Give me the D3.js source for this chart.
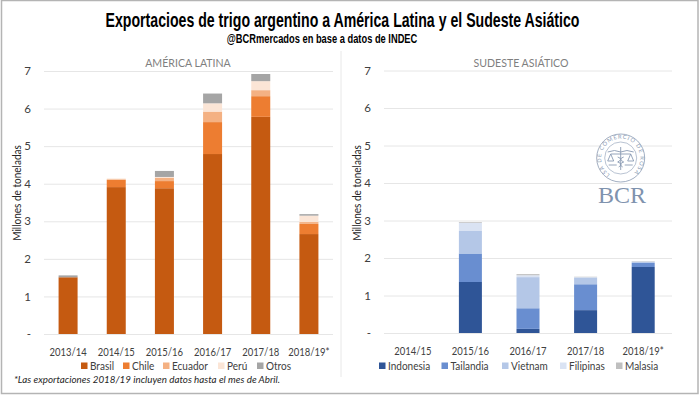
<!DOCTYPE html>
<html>
<head>
<meta charset="utf-8">
<script src="https://cdn.jsdelivr.net/npm/d3@7"></script>
<style>
  html, body { margin: 0; padding: 0; background: #fff; }
  svg { display: block; }
  text { font-family: Lato, "Open Sans", sans-serif; fill: #404040; }
  .head { font-family: "Liberation Sans", sans-serif; font-weight: bold; fill: #000; text-anchor: middle; }
  .axis path { display: none; }
  .grid path { display: none; }
  .grid line { stroke: #e6e6e6; }
</style>
</head>
<body>
<svg id="chart" width="700" height="395"></svg>
<script>
const tickValues = [0, 1, 2, 3, 4, 5, 6, 7];

const latamYears = ['2013/14', '2014/15', '2015/16', '2016/17', '2017/18', '2018/19*'];
const latamKeys = ['Brasil', 'Chile', 'Ecuador', 'Perú', 'Otros'];
const latamColors = ['#c55a11', '#ed7d31', '#f4b183', '#fbe5d6', '#a5a5a5'];
const brasil = [1.51, 3.91, 3.88, 4.79, 5.78, 2.66];
const chile = [0, 0.19, 0.19, 0.85, 0.55, 0.27];
const ecuador = [0, 0.02, 0.09, 0.28, 0.16, 0.05];
const peru = [0, 0.02, 0.02, 0.22, 0.24, 0.17];
const otros = [0.05, 0, 0.16, 0.26, 0.19, 0.04];

const asiaYears = ['2014/15', '2015/16', '2016/17', '2017/18', '2018/19*'];
const asiaKeys = ['Indonesia', 'Tailandia', 'Vietnam', 'Filipinas', 'Malasia'];
const asiaColors = ['#2f5597', '#698ed0', '#b4c7e7', '#dae3f3', '#bfbfbf'];
const indonesia = [0, 1.36, 0.11, 0.61, 1.76];
const tailandia = [0, 0.76, 0.55, 0.69, 0.11];
const vietnam = [0, 0.60, 0.83, 0.18, 0.03];
const filipinas = [0, 0.22, 0.05, 0.01, 0.01];
const malasia = [0, 0.02, 0.03, 0.01, 0.01];

const svg = d3.select('#chart');

// the original uses narrower fonts than we have, so squeeze the glyphs a bit
const squeeze = (sel, k) => sel.each(function () {
  d3.select(this)
    .attr('textLength', this.getComputedTextLength() * k)
    .attr('lengthAdjust', 'spacingAndGlyphs');
});

// frame
svg.append('rect')
  .attr('x', 1.5).attr('y', 0.5)
  .attr('width', 696.5).attr('height', 393)
  .attr('fill', '#fff')
  .attr('stroke', '#b4b4b4')
  .attr('stroke-width', 1.5);

svg.append('text').attr('class', 'head')
  .attr('transform', 'translate(342.5, 27) scale(0.725, 1)')
  .attr('font-size', 19.5)
  .text('Exportacioes de trigo argentino a América Latina y el Sudeste Asiático');
svg.append('text').attr('class', 'head')
  .attr('transform', 'translate(322, 43) scale(0.745, 1)')
  .attr('font-size', 12.5)
  .text('@BCRmercados en base a datos de INDEC');

// divider between panels
svg.append('line')
  .attr('x1', 341).attr('x2', 341)
  .attr('y1', 51).attr('y2', 377)
  .attr('stroke', '#e8e8e8');

const drawPanel = (p) => {
  const x = d3.scaleBand().domain(p.years).range([p.left, p.right]);
  const y = d3.scaleLinear().domain([0, 7]).range([p.bottom, p.top]);

  const rows = p.years.map((year, i) => {
    const row = { year };
    p.keys.forEach((k, j) => { row[k] = p.series[j][i]; });
    return row;
  });
  const stacked = d3.stack().keys(p.keys)(rows);

  svg.append('g').attr('class', 'grid')
    .attr('transform', `translate(${p.left}, 0)`)
    .call(d3.axisLeft(y).tickValues(tickValues).tickSize(p.left - p.right).tickFormat(''));

  svg.append('g').attr('class', 'axis')
    .attr('transform', `translate(${p.left}, 0)`)
    .call(d3.axisLeft(y).tickValues(tickValues).tickSize(0).tickPadding(p.left - p.tickEnd)
      .tickFormat(d => d === 0 ? '-' : d))
    .selectAll('text')
    .style('font-family', 'Lato')
    .attr('font-size', 11.5)
    .attr('fill', '#404040');

  svg.append('g').attr('class', 'axis')
    .attr('transform', `translate(0, ${p.bottom})`)
    .call(d3.axisBottom(x).tickSize(0).tickPadding(14))
    .call(g => g.selectAll('line').remove())
    .selectAll('text')
    .style('font-family', 'Lato')
    .attr('font-size', 11)
    .attr('fill', '#404040')
    .call(squeeze, 0.86);

  svg.append('g').selectAll('g')
    .data(stacked)
    .enter()
    .append('g')
    .attr('fill', (d, i) => p.colors[i])
    .selectAll('rect')
    .data(d => d)
    .enter()
    .append('rect')
    .attr('x', d => x(d.data.year) + (x.bandwidth() - p.barWidth) / 2)
    .attr('width', p.barWidth)
    .attr('y', d => y(d[1]))
    .attr('height', d => y(d[0]) - y(d[1]));

  svg.append('text')
    .attr('x', p.titleX).attr('y', 67)
    .attr('text-anchor', 'middle')
    .attr('font-size', 11.5)
    .style('fill', '#7f7f7f')
    .text(p.title)
    .call(squeeze, 0.92);

  svg.append('text')
    .attr('transform', `translate(${p.axisTitleX}, 193) rotate(-90)`)
    .attr('text-anchor', 'middle')
    .attr('font-size', 11)
    .style('fill', '#262626')
    .text('Millones de toneladas')
    .call(squeeze, 0.91);

  const legend = svg.append('g').selectAll('g')
    .data(p.keys)
    .enter()
    .append('g')
    .attr('transform', (d, i) => `translate(${p.legendX[i]}, 366)`);
  legend.append('rect')
    .attr('x', 0).attr('y', -3.5)
    .attr('width', 6.5).attr('height', 6.5)
    .attr('fill', (d, i) => p.colors[i]);
  legend.append('text')
    .attr('x', 9).attr('y', 4)
    .attr('font-size', 11)
    .text(d => d)
    .call(squeeze, 0.91);
};

drawPanel({
  years: latamYears, keys: latamKeys, colors: latamColors,
  series: [brasil, chile, ecuador, peru, otros],
  left: 44, right: 333, top: 71, bottom: 334, tickEnd: 31,
  barWidth: 19, title: 'AMÉRICA LATINA', titleX: 188, axisTitleX: 21,
  legendX: [81, 123, 163, 218, 257]
});

drawPanel({
  years: asiaYears, keys: asiaKeys, colors: asiaColors,
  series: [indonesia, tailandia, vietnam, filipinas, malasia],
  left: 384, right: 672, top: 70.5, bottom: 333, tickEnd: 371,
  barWidth: 23, title: 'SUDESTE ASIÁTICO', titleX: 521, axisTitleX: 361,
  legendX: [379, 441.5, 502, 560, 616]
});

svg.append('text')
  .attr('x', 14).attr('y', 382.5)
  .attr('font-size', 10)
  .attr('font-style', 'italic')
  .style('fill', '#262626')
  .text('*Las exportaciones 2018/19 incluyen datos hasta el mes de Abril.')
  .call(squeeze, 0.98);

// BCR logo
const logo = svg.append('g').attr('transform', 'translate(620.7, 158)');
const logoColor = '#8a9bb3';
logo.append('circle').attr('r', 24).attr('fill', '#fff').attr('stroke', logoColor).attr('stroke-width', 0.8);
logo.append('circle').attr('r', 16).attr('fill', 'none').attr('stroke', logoColor).attr('stroke-width', 0.6);
logo.append('path').attr('id', 'logo-ring')
  .attr('d', 'M -12 15.5 A 19.5 19.5 0 1 1 12 15.5')
  .attr('fill', 'none');
logo.append('text')
  .attr('font-size', 5.6)
  .attr('letter-spacing', 0.95)
  .style('fill', logoColor)
  .append('textPath')
  .attr('href', '#logo-ring')
  .attr('startOffset', '50%')
  .attr('text-anchor', 'middle')
  .text('BOLSA DE COMERCIO DE ROSARIO');
// caduceus and scales
logo.append('path')
  .attr('d', 'M 0 -11 V 12 M -13 -6 Q -6 -9 0 -6 Q 6 -9 13 -6 M -10 -4 H 10 M -10 -4 L -13 3 H -7 Z M 10 -4 L 7 3 H 13 Z M -3 -1 Q 3 1 -3 4 Q 3 6 -2 9 M 3 -1 Q -3 1 3 4 Q -3 6 2 9 M -12 7 H -4 M 4 7 H 12')
  .attr('fill', 'none')
  .attr('stroke', logoColor)
  .attr('stroke-width', 0.9);

svg.append('text')
  .attr('x', 622).attr('y', 203)
  .attr('text-anchor', 'middle')
  .attr('font-size', 24)
  .style('font-family', '"Liberation Serif", serif')
  .style('fill', '#7f93ae')
  .text('BCR');
</script>
</body>
</html>
